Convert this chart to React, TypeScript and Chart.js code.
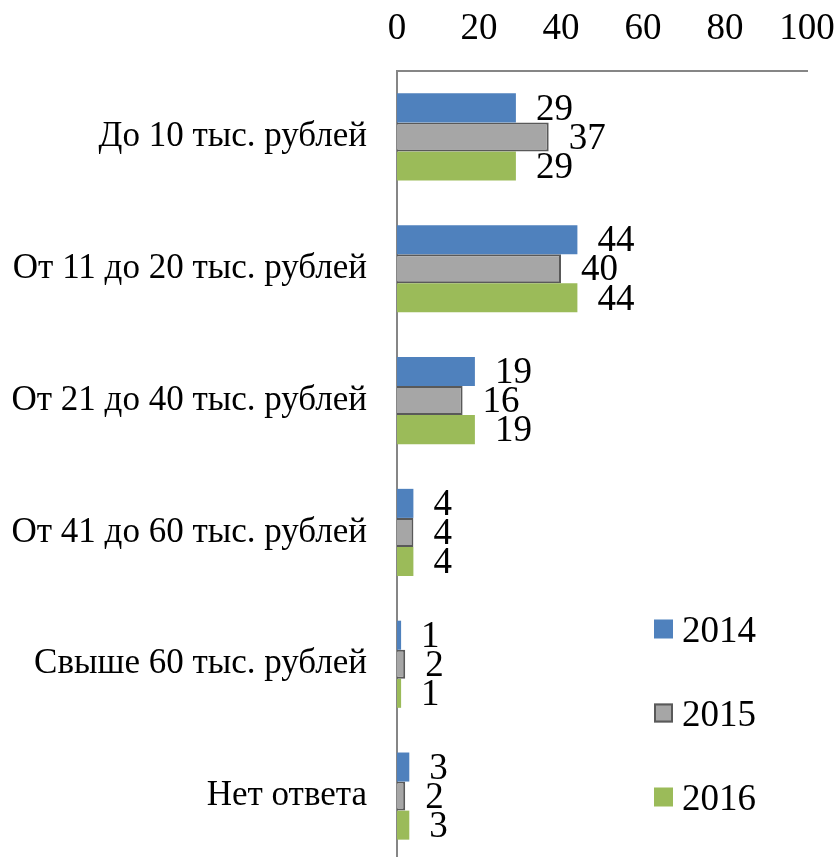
import React, { useEffect, useRef } from "react";
import { Chart, registerables } from "chart.js";

Chart.register(...registerables);

const categories = [
  "До 10 тыс. рублей",
  "От 11 до 20 тыс. рублей",
  "От 21 до 40 тыс. рублей",
  "От 41 до 60 тыс. рублей",
  "Свыше 60 тыс. рублей",
  "Нет ответа",
];
const seriesNames = ["2014", "2015", "2016"];
const values2014 = [29, 44, 19, 4, 1, 3];
const values2015 = [37, 40, 16, 4, 2, 2];
const values2016 = [29, 44, 19, 4, 1, 3];
const xTicks = [0, 20, 40, 60, 80, 100];

const FONT = '"Liberation Serif", "Times New Roman", serif';
const fills = ["#4F81BD", "#A6A6A6", "#9BBB59"];
const borders = ["#4F81BD", "#595959", "#9BBB59"];

const labelPlugin = {
  id: "valueLabels",
  afterDatasetsDraw(chart: any) {
    const ctx = chart.ctx;
    ctx.save();
    ctx.font = `37px ${FONT}`;
    ctx.fillStyle = "#000";
    ctx.textAlign = "left";
    ctx.textBaseline = "middle";
    chart.data.datasets.forEach((ds: any, di: number) => {
      const meta = chart.getDatasetMeta(di);
      meta.data.forEach((el: any, i: number) => {
        ctx.fillText(String(ds.data[i]), el.x + 20, el.y + 2);
      });
    });
    ctx.restore();
  },
};

const legendPlugin = {
  id: "customLegend",
  afterDraw(chart: any) {
    const ctx = chart.ctx;
    const area = chart.chartArea;
    const x0 = area.left + 257;
    const yStart = area.top + 558;
    const step = 84;
    ctx.save();
    ctx.font = `37px ${FONT}`;
    ctx.textAlign = "left";
    ctx.textBaseline = "middle";
    chart.data.datasets.forEach((ds: any, di: number) => {
      const cy = yStart + di * step;
      ctx.fillStyle = ds.backgroundColor;
      ctx.fillRect(x0, cy - 9.5, 19, 19);
      if (di === 1) {
        ctx.strokeStyle = ds.borderColor;
        ctx.lineWidth = 2;
        ctx.strokeRect(x0 + 1, cy - 8.5, 17, 17);
      }
      ctx.fillStyle = "#000";
      ctx.fillText(ds.label, x0 + 28, cy + 3);
    });
    ctx.restore();
  },
};

export default function App() {
  const ref = useRef<HTMLCanvasElement>(null);
  useEffect(() => {
    if (!ref.current) return;
    const data = [values2014, values2015, values2016];
    const chart = new Chart(ref.current, {
      type: "bar",
      data: {
        labels: categories,
        datasets: seriesNames.map((name, i) => ({
          label: name,
          data: data[i],
          backgroundColor: fills[i],
          borderColor: borders[i],
          borderWidth: i === 1 ? 2 : 0,
          categoryPercentage: 0.661,
          barPercentage: 1,
        })),
      },
      options: {
        indexAxis: "y",
        responsive: false,
        animation: false,
        devicePixelRatio: 1,
        layout: { padding: { top: 0, right: 31, bottom: 0, left: 0 } },
        plugins: {
          legend: { display: false },
          tooltip: { enabled: false },
        },
        scales: {
          x: {
            position: "top",
            min: 0,
            max: 100,
            afterBuildTicks: (scale: any) => {
              scale.ticks = xTicks.map((v) => ({ value: v }));
            },
            afterFit: (scale: any) => {
              scale.height = 71;
              scale.paddingLeft = 0;
              scale.paddingRight = 0;
            },
            grid: { display: false, drawTicks: false },
            border: { display: true, color: "#868686", width: 2 },
            ticks: {
              color: "#000",
              font: { family: FONT, size: 37 },
              padding: 20,
            },
          },
          y: {
            afterFit: (scale: any) => {
              scale.width = 397;
              scale.paddingTop = 0;
              scale.paddingBottom = 0;
            },
            grid: { display: false, drawTicks: false },
            border: { display: true, color: "#868686", width: 2 },
            ticks: {
              color: "#000",
              font: { family: FONT, size: 35 },
              padding: 30,
            },
          },
        },
      },
      plugins: [labelPlugin, legendPlugin],
    });
    return () => chart.destroy();
  }, []);
  return (
    <div
      style={{
        position: "fixed",
        top: 0,
        left: 0,
        width: 838,
        height: 857,
        overflow: "hidden",
        background: "#fff",
      }}
    >
      <canvas ref={ref} width={838} height={862} style={{ display: "block" }} />
    </div>
  );
}
